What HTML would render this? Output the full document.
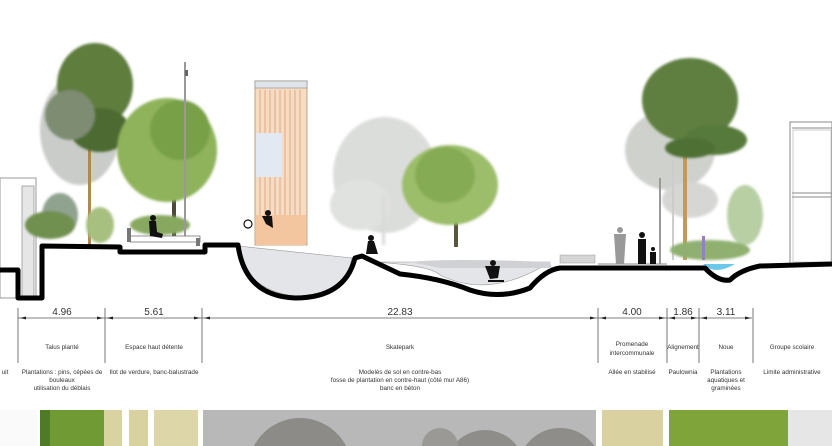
<!DOCTYPE html>
<html><head><meta charset="utf-8"><style>
html,body{margin:0;padding:0;background:#fff;width:832px;height:446px;overflow:hidden;}
svg{display:block;}
text{font-family:"Liberation Sans",sans-serif;fill:#333;}
</style></head><body>
<svg width="832" height="446" viewBox="0 0 832 446" xmlns="http://www.w3.org/2000/svg">
<defs>
<filter id="bl"><feGaussianBlur stdDeviation="1.2"/></filter>
</defs>
<rect x="0" y="178" width="36" height="120" fill="#fff" stroke="#999" stroke-width="1"/>
<rect x="22" y="186" width="12" height="112" fill="#e6e6e6" stroke="#999" stroke-width="0.8"/>
<rect x="790" y="122" width="42" height="142" fill="#fff" stroke="#888" stroke-width="1"/>
<line x1="792" y1="128" x2="832" y2="128" stroke="#888"/>
<line x1="792" y1="193" x2="832" y2="193" stroke="#888"/>
<line x1="792" y1="197" x2="832" y2="197" stroke="#888"/>
<rect x="793" y="130" width="38" height="132" fill="none" stroke="#aaa" stroke-width="0.6"/>

<g filter="url(#bl)" opacity="0.55">
<ellipse cx="385" cy="175" rx="52" ry="58" fill="#bfc3bd"/>
<ellipse cx="360" cy="205" rx="30" ry="25" fill="#c8cbc6"/>
<rect x="382" y="195" width="3" height="50" fill="#bbb"/>
<ellipse cx="80" cy="130" rx="40" ry="55" fill="#9ea39c"/>
<ellipse cx="670" cy="150" rx="45" ry="40" fill="#a8aca6"/>
<ellipse cx="690" cy="200" rx="28" ry="18" fill="#b5b8b3"/>
</g>
<rect x="88" y="140" width="3" height="105" fill="#b08850"/>
<g filter="url(#bl)">
<ellipse cx="95" cy="85" rx="38" ry="42" fill="#5f7d3e"/>
<ellipse cx="100" cy="130" rx="30" ry="22" fill="#4d6b32"/>
<ellipse cx="70" cy="115" rx="25" ry="25" fill="#7e8c72"/>
<ellipse cx="60" cy="215" rx="18" ry="22" fill="#90a38f"/>
<ellipse cx="50" cy="225" rx="25" ry="14" fill="#6f9050"/>
<ellipse cx="100" cy="225" rx="14" ry="18" fill="#a7c080"/>
</g>
<rect x="172" y="175" width="4" height="65" fill="#4d4a3a"/>
<g filter="url(#bl)">
<ellipse cx="167" cy="150" rx="50" ry="52" fill="#8fb35a"/>
<ellipse cx="180" cy="130" rx="30" ry="30" fill="#78a046"/>
<ellipse cx="160" cy="225" rx="30" ry="10" fill="#88a860"/>
</g>
<rect x="184" y="62" width="2" height="178" fill="#999"/>
<rect x="185" y="70" width="3" height="6" fill="#666"/>
<rect x="454" y="195" width="4" height="52" fill="#5a5440"/>
<g filter="url(#bl)">
<ellipse cx="450" cy="185" rx="48" ry="40" fill="#9cbd6a"/>
<ellipse cx="445" cy="175" rx="30" ry="28" fill="#86ab55"/>
</g>
<rect x="672" y="160" width="2" height="100" fill="#ccc"/>
<rect x="683" y="155" width="4" height="105" fill="#c09a60"/>
<rect x="659" y="178" width="2" height="86" fill="#999"/>
<g filter="url(#bl)">
<ellipse cx="690" cy="100" rx="48" ry="42" fill="#5f7f40"/>
<ellipse cx="715" cy="140" rx="32" ry="15" fill="#577a3a"/>
<ellipse cx="690" cy="148" rx="25" ry="10" fill="#4f7036"/>
<ellipse cx="745" cy="215" rx="18" ry="30" fill="#b8cfa4"/>
<ellipse cx="710" cy="250" rx="40" ry="10" fill="#8fb070"/>
</g>
<rect x="702" y="236" width="3" height="24" fill="#9b7ec0"/>

<rect x="255" y="81" width="52" height="164" fill="#f7dcc4" stroke="#b58f70" stroke-width="0.8"/>
<rect x="255" y="81" width="52" height="7" fill="#dfe3ea" stroke="#888" stroke-width="0.6"/>
<g stroke="#e0a783" stroke-width="1">
<line x1="260" y1="90" x2="260" y2="245"/><line x1="265" y1="90" x2="265" y2="245"/><line x1="270" y1="90" x2="270" y2="245"/><line x1="275" y1="90" x2="275" y2="245"/><line x1="280" y1="90" x2="280" y2="245"/><line x1="285" y1="90" x2="285" y2="245"/><line x1="290" y1="90" x2="290" y2="245"/><line x1="295" y1="90" x2="295" y2="245"/><line x1="300" y1="90" x2="300" y2="245"/>
</g>
<rect x="256" y="133" width="26" height="44" fill="#e3e9f2"/>
<rect x="256" y="215" width="50" height="30" fill="#f3c6a0"/>

<path d="M238 246 Q245 290 295 296 Q345 296 352 258 Z" fill="#e4e5e8" stroke="#999" stroke-width="0.6"/>
<path d="M372 262 Q430 265 440 275 Q490 300 550 262 Z" fill="#e4e5e8" stroke="#999" stroke-width="0.6"/>
<path d="M410 262 Q450 258 550 262 L552 268 L440 268 Z" fill="#d0d1d5"/>
<rect x="560" y="255" width="35" height="8" fill="#d6d6d6" stroke="#999" stroke-width="0.5"/>
<path d="M703 264 Q715 276 735 264 Z" fill="#6cc8e8"/>

<rect x="130" y="236" width="70" height="6" fill="#fff" stroke="#777" stroke-width="0.8"/>
<rect x="127" y="228" width="4" height="14" fill="#777"/>
<rect x="196" y="238" width="4" height="8" fill="#777"/>
<line x1="598" y1="264" x2="667" y2="264" stroke="#888" stroke-width="1"/>

<path d="M0 270 L18 270 L18 298 L42 298 L42 246 L120 247 L120 252 L205 252 L205 245 L238 245 Q245 296 295 298 Q345 298 355 258 L362 256 L400 274 Q440 278 470 290 Q500 300 530 288 Q545 270 560 268 L705 268 Q718 282 730 280 Q740 270 760 266 L832 264" fill="none" stroke="#000" stroke-width="5" stroke-linejoin="round"/>

<g fill="#111">
<circle cx="153" cy="218" r="3"/><path d="M149 221 L156 221 L157 232 L163 234 L162 238 L150 236 Z"/>
<circle cx="268" cy="213" r="3"/><path d="M262 216 L272 216 L273 228 L266 224 Z"/>
<circle cx="248" cy="224" r="4" fill="none" stroke="#111" stroke-width="1.2"/>
<circle cx="371" cy="238" r="3"/><path d="M368 241 L374 241 L378 254 L366 254 Z"/>
<circle cx="493" cy="263" r="3"/><path d="M485 266 L500 266 L498 278 L490 279 Z"/><rect x="488" y="280" width="16" height="2"/>
<circle cx="642" cy="235" r="3"/><path d="M638 239 L646 239 L646 264 L638 264 Z"/>
<circle cx="653" cy="249" r="2"/><path d="M650 252 L656 252 L656 264 L650 264 Z"/>
</g>
<g fill="#999"><circle cx="620" cy="230" r="3"/><path d="M614 234 L626 234 L624 264 L616 264 Z"/></g>

<g stroke="#555" stroke-width="0.8">
<line x1="18" y1="318" x2="752" y2="318"/>
<line x1="18" y1="308" x2="18" y2="363"/>
<line x1="105" y1="308" x2="105" y2="363"/>
<line x1="202" y1="308" x2="202" y2="363"/>
<line x1="598" y1="308" x2="598" y2="363"/>
<line x1="667" y1="308" x2="667" y2="363"/>
<line x1="699" y1="308" x2="699" y2="363"/>
<line x1="753" y1="308" x2="753" y2="363"/>
</g>
<g fill="#222">
<path d="M20 318 l6 -1.5 v3z"/><path d="M103 318 l-6 -1.5 v3z"/>
<path d="M107 318 l6 -1.5 v3z"/><path d="M200 318 l-6 -1.5 v3z"/>
<path d="M204 318 l6 -1.5 v3z"/><path d="M596 318 l-6 -1.5 v3z"/>
<path d="M600 318 l6 -1.5 v3z"/><path d="M665 318 l-6 -1.5 v3z"/>
<path d="M669 318 l6 -1.5 v3z"/><path d="M697 318 l-6 -1.5 v3z"/>
<path d="M701 318 l6 -1.5 v3z"/><path d="M751 318 l-6 -1.5 v3z"/>
</g>
<g font-size="10" text-anchor="middle">
<text x="62" y="315">4.96</text>
<text x="154" y="315">5.61</text>
<text x="400" y="315">22.83</text>
<text x="632" y="315">4.00</text>
<text x="683" y="315">1.86</text>
<text x="726" y="315">3.11</text>
</g>
<g font-size="6.3" text-anchor="middle">
<text x="62" y="349">Talus planté</text>
<text x="154" y="349">Espace haut détente</text>
<text x="400" y="349">Skatepark</text>
<text x="632" y="346">Promenade</text>
<text x="632" y="355">intercommunale</text>
<text x="683" y="349">Alignement</text>
<text x="726" y="349">Noue</text>
<text x="792" y="349">Groupe scolaire</text>
<text x="5" y="374">uit</text>
<text x="62" y="374">Plantations : pins, cépées de</text>
<text x="62" y="382">bouleaux</text>
<text x="62" y="390">utilisation du déblais</text>
<text x="154" y="374">Ilot de verdure, banc-balustrade</text>
<text x="400" y="374">Modelés de sol en contre-bas</text>
<text x="400" y="382">fosse de plantation en contre-haut (côté mur A86)</text>
<text x="400" y="390">banc en béton</text>
<text x="632" y="374">Allée en stabilisé</text>
<text x="683" y="374">Paulownia</text>
<text x="726" y="374">Plantations</text>
<text x="726" y="382">aquatiques et</text>
<text x="726" y="390">graminées</text>
<text x="792" y="374">Limite administrative</text>
</g>

<rect x="0" y="410" width="38" height="36" fill="#fafafa"/>
<rect x="40" y="410" width="64" height="36" fill="#6f9a34"/>
<rect x="40" y="410" width="10" height="36" fill="#4f7a26"/>
<rect x="104" y="410" width="18" height="36" fill="#d9d3a2"/>
<rect x="129" y="410" width="19" height="36" fill="#d8d2a0"/>
<rect x="154" y="410" width="44" height="36" fill="#dcd6a8"/>
<rect x="203" y="410" width="393" height="36" fill="#b8b8b8"/>
<path d="M253.9 446 A52 52 0 0 1 346.1 446 Z" fill="#8c8b88"/>
<path d="M453 446 A40 40 0 0 1 517 446 Z" fill="#8e8d8a"/>
<path d="M525.5 446 A42 42 0 0 1 594.5 446 Z" fill="#8e8d8a"/>
<path d="M422 446 A18 18 0 0 1 458 446 Z" fill="#9a9996"/>
<rect x="602" y="410" width="61" height="36" fill="#d9d2a0"/>
<rect x="669" y="410" width="119" height="36" fill="#7ea43a"/>
<rect x="788" y="410" width="44" height="36" fill="#e6e6e6"/>
</svg>
</body></html>
